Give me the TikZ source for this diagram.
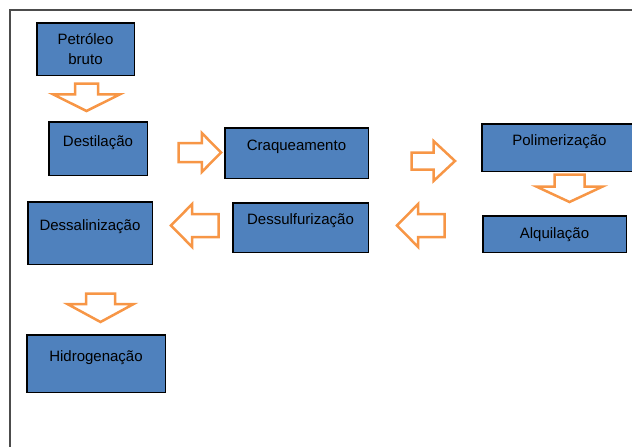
\documentclass[tikz,border=0pt]{standalone}
\usepackage{fontspec}
\setmainfont{Liberation Sans}
\usetikzlibrary{shapes.arrows}
\definecolor{caixaazul}{HTML}{4F81BD}
\definecolor{setalaranja}{HTML}{F79646}

\begin{document}
\begin{tikzpicture}[x=1pt,y=-1pt,
etapa/.style={draw=black,line width=1.5pt,fill=caixaazul,inner sep=0pt,
  font=\fontsize{15}{20}\selectfont},
seta/.style={single arrow,draw=setalaranja,line width=2.5pt,fill=white,
  inner xsep=0pt,single arrow head indent=0pt}]
\useasboundingbox (0,0) rectangle (632,447);
% moldura
\draw[gray!60!black,line width=1.3pt] (10,447) -- (10,10) -- (632,10);

% etapas
\node[etapa,align=center,minimum width=97.5pt,minimum height=52.5pt] (pet) at (85.5,49) {Petróleo\\bruto};
\node[etapa,minimum width=98.5pt,text height=24.5pt,text depth=29pt] (dst) at (98,148.5) {Destilação};
\node[etapa,minimum width=143.5pt,text height=22.5pt,text depth=28pt] (crq) at (296.5,153) {Craqueamento};
\node[etapa,minimum width=155.5pt,text height=21.5pt,text depth=26pt] (pol) at (559.5,147.5) {Polimerização};
\node[etapa,minimum width=143.5pt,text height=22.5pt,text depth=14pt] (alq) at (554.5,234) {Alquilação};
\node[etapa,minimum width=135.5pt,text height=21.5pt,text depth=28pt] (dsf) at (300.5,227.5) {Dessulfurização};
\node[etapa,minimum width=124.5pt,text height=28.5pt,text depth=34pt] (dsl) at (90,233) {Dessalinização};
\node[etapa,minimum width=138.5pt,text height=26.5pt,text depth=31pt] (hid) at (96,363.5) {Hidrogenação};

% setas
\node[seta,anchor=tail,rotate=-90,minimum height=27.5pt,inner ysep=10.25pt,
  single arrow head extend=22pt,single arrow tip angle=127] (s1) at (86.5,82.25) {};
\node[seta,anchor=tail,minimum height=42.5pt,inner ysep=8.25pt,
  single arrow head extend=10pt,single arrow tip angle=91] (s2) at (177.25,152.5) {};
\node[seta,anchor=tail,minimum height=43.5pt,inner ysep=7.25pt,
  single arrow head extend=11.5pt,single arrow tip angle=86] (s3) at (410.25,161) {};
\node[seta,anchor=tail,rotate=-90,minimum height=27.5pt,inner ysep=13.75pt,
  single arrow head extend=18pt,single arrow tip angle=130] (s4) at (569.5,173.25) {};
\node[seta,anchor=tail,rotate=180,minimum height=47.5pt,inner ysep=10.25pt,
  single arrow head extend=10pt,single arrow tip angle=91] (s5) at (445.75,225.5) {};
\node[seta,anchor=tail,rotate=180,minimum height=47.5pt,inner ysep=10.25pt,
  single arrow head extend=10pt,single arrow tip angle=91] (s6) at (219.75,225.5) {};
\node[seta,anchor=tail,rotate=-90,minimum height=28.5pt,inner ysep=13.25pt,
  single arrow head extend=18.5pt,single arrow tip angle=123] (s7) at (100.5,292.25) {};
\end{tikzpicture}
\end{document}
